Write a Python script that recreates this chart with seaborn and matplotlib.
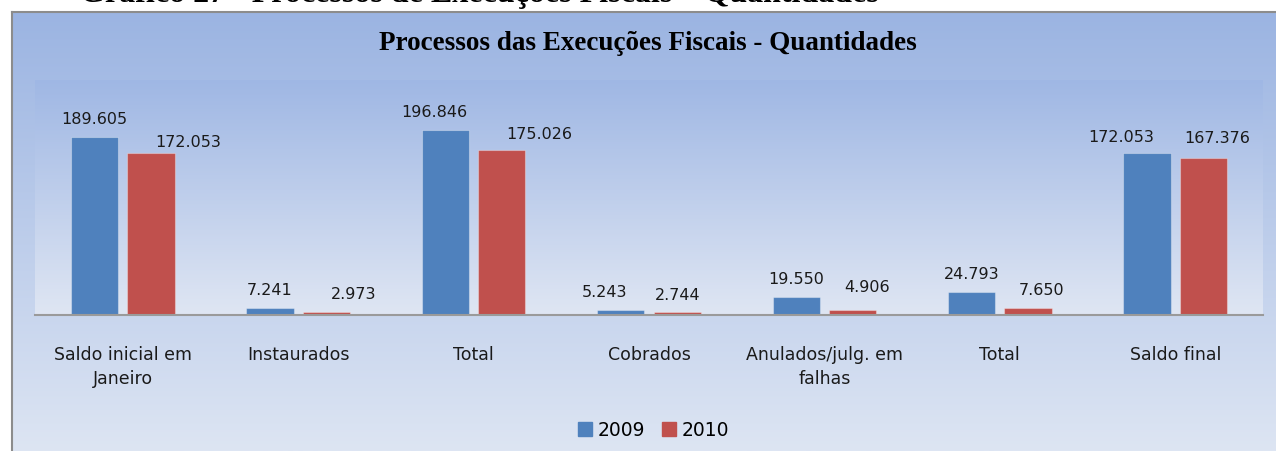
import numpy as np
import pandas as pd
import matplotlib
matplotlib.use("Agg")
import matplotlib.pyplot as plt
from matplotlib.colors import LinearSegmentedColormap
import seaborn as sns

# dados do grafico
categorias = ["Saldo inicial em\nJaneiro", "Instaurados", "Total", "Cobrados",
              "Anulados/julg. em\nfalhas", "Total", "Saldo final"]
anos = ["2009", "2010"]
v2009 = [189605, 7241, 196846, 5243, 19550, 24793, 172053]
v2010 = [172053, 2973, 175026, 2744, 4906, 7650, 167376]
cores = ["#4F81BD", "#C0504D"]

# deslocamento manual dos rotulos (px), como no original
desloc_x = [[0, 0, -11, -16, 0, 0, -26], [37, 27, 37, 0, 14, 14, 14]]
desloc_y = [[0, 0, 0, 0, 0, 0, -1], [-6, 0, -1, 0, 6, 0, 2]]

df = pd.DataFrame({
    "pos": list(range(len(categorias))) * 2,
    "valor": v2009 + v2010,
    "ano": [anos[0]] * len(v2009) + [anos[1]] * len(v2010),
})

W, H = 1276, 451
fig = plt.figure(figsize=(W / 100, H / 100), dpi=100)
fig.patch.set_facecolor("white")

plt.rcParams["font.family"] = ["DejaVu Sans"]

# fundo da caixa externa (gradiente)
grad = np.linspace(0, 1, 256).reshape(-1, 1)
cmap_out = LinearSegmentedColormap.from_list("out", ["#9BB4E2", "#DDE5F3"])
bg = fig.add_axes([12 / W, 0, 1 - 12 / W, 1 - 12 / H])
bg.imshow(grad, aspect="auto", cmap=cmap_out, extent=[0, 1, 0, 1])
bg.set_xticks([])
bg.set_yticks([])
for s in ["right", "bottom"]:
    bg.spines[s].set_visible(False)
for s in ["left", "top"]:
    bg.spines[s].set_color("#8C8C8C")
    bg.spines[s].set_linewidth(1.5)

# fundo da area de plotagem
pos_ax = [35 / W, (H - 315) / H, (1263 - 35) / W, (315 - 80) / H]
cmap_in = LinearSegmentedColormap.from_list("in", ["#9FB7E4", "#DFE6F3"])
bg2 = fig.add_axes(pos_ax)
bg2.imshow(grad, aspect="auto", cmap=cmap_in, extent=[0, 1, 0, 1])
bg2.axis("off")

ax = fig.add_axes(pos_ax)
ax.set_facecolor("none")
sns.barplot(data=df, x="pos", y="valor", hue="ano", palette=cores,
            width=0.643, gap=0.16, ax=ax, legend=False, saturation=1,
            edgecolor="#FFFFFF55", linewidth=0.8)

px = 0.72  # 1 px em pontos (dpi 100)
for i, cont in enumerate(ax.containers):
    vals = [b.get_height() for b in cont]
    anns = ax.bar_label(cont, labels=[f"{int(v):,}".replace(",", ".") for v in vals],
                        padding=7, fontsize=11.5, color="#1A1A1A")
    for j, a in enumerate(anns):
        a.xyann = (desloc_x[i][j] * px, 7 + desloc_y[i][j] * px)

ax.set_ylim(0, 250000)
ax.set_xlim(-0.5, len(categorias) - 0.5)
ax.set_yticks([])
ax.set_xticks(range(len(categorias)))
ax.set_xticklabels(categorias, fontsize=12.5, color="#1A1A1A", linespacing=1.45)
ax.tick_params(axis="x", length=0, pad=22)
ax.set_xlabel("")
ax.set_ylabel("")
for s in ["left", "right", "top"]:
    ax.spines[s].set_visible(False)
ax.spines["bottom"].set_color("#9A9A9A")
ax.spines["bottom"].set_linewidth(1.5)

# legenda
handles = [plt.Rectangle((0, 0), 1, 1, color=c) for c in cores]
fig.legend(handles, anos, loc="center", bbox_to_anchor=(654 / W, 1 - 430 / H),
           ncol=2, frameon=False, fontsize=13.5, handlelength=0.75,
           handleheight=0.75, handletextpad=0.3, columnspacing=0.9)

# titulos
fig.text(648 / W, 1 - 43 / H, "Processos das Execuções Fiscais - Quantidades",
         ha="center", va="center", family="Liberation Serif",
         fontweight="bold", fontsize=19.5)
fig.text(80 / W, 1 - 2 / H, "Gráfico 27 - Processos de Execuções Fiscais – Quantidades",
         ha="left", va="baseline", family="Liberation Serif",
         fontweight="bold", fontsize=23)

fig.savefig("out.png", dpi=100, facecolor="white")
